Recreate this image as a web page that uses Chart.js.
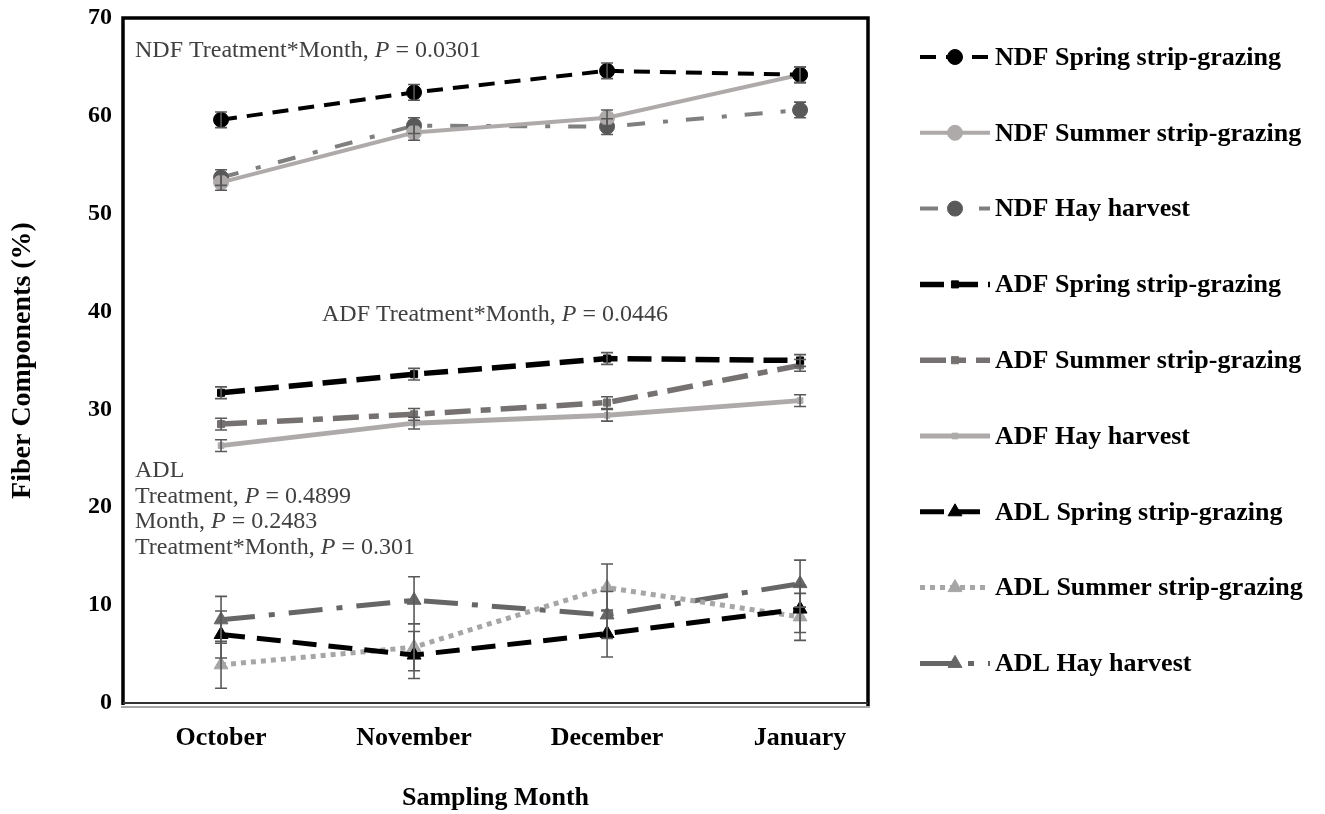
<!DOCTYPE html>
<html><head><meta charset="utf-8">
<script src="https://cdn.jsdelivr.net/npm/chart.js@4/dist/chart.umd.min.js"></script>
<style>html,body{margin:0;padding:0;background:#fff;}</style>
</head><body>
<canvas id="c" width="1325" height="814" style="width:1325px;height:814px;display:block"></canvas>
<script>
// ---- data ----
const months = ['October', 'November', 'December', 'January'];
const yTickValues = [0, 10, 20, 30, 40, 50, 60, 70];
const seriesNames = [
  'NDF Spring strip-grazing', 'NDF Summer strip-grazing', 'NDF Hay harvest',
  'ADF Spring strip-grazing', 'ADF Summer strip-grazing', 'ADF Hay harvest',
  'ADL Spring strip-grazing', 'ADL Summer strip-grazing', 'ADL Hay harvest'
];
const ndfSpring = [59.6, 62.4, 64.6, 64.2];
const ndfSummer = [53.2, 58.3, 59.8, 64.2];
const ndfHay    = [53.7, 59.0, 58.9, 60.6];
const adfSpring = [31.7, 33.6, 35.2, 35.0];
const adfSummer = [28.5, 29.5, 30.7, 34.5];
const adfHay    = [26.3, 28.6, 29.4, 30.9];
const adlSpring = [7.0, 4.9, 7.1, 9.6];
const adlSummer = [3.9, 5.7, 11.8, 8.8];
const adlHay    = [8.5, 10.5, 9.0, 12.2];
const ndfSE = [0.8, 0.8, 0.8, 0.8];
const adfSE = [0.6, 0.6, 0.6, 0.6];
const adlSE = [2.4, 2.4, 2.4, 2.4];
const annotNDF = ['NDF Treatment*Month, ', 'P', ' = 0.0301'];
const annotADF = ['ADF Treatment*Month, ', 'P', ' = 0.0446'];
const annotADL = [['ADL'], ['Treatment, ', 'P', ' = 0.4899'], ['Month, ', 'P', ' = 0.2483'], ['Treatment*Month, ', 'P', ' = 0.301']];

const SERIF = "'Liberation Serif', 'Times New Roman', serif";

function pts(arr) { return arr.map((v, i) => ({x: i, y: v})); }

const styles = [
  {c:'#000000', pc:'#000000', w:4,   dash:[16,10],       ps:'circle',   r:7.5},
  {c:'#AEAAAA', pc:'#AEAAAA', w:4,   dash:[],            ps:'circle',   r:7.5},
  {c:'#7F7F7F', pc:'#595959', w:4,   dash:[18,18,5,18],  ps:'circle',   r:7.5},
  {c:'#000000', pc:'#000000', w:5.5, dash:[24,10],       ps:'rect',     r:5},
  {c:'#767171', pc:'#767171', w:5.5, dash:[26,10,10,10], ps:'rect',     r:5},
  {c:'#AEAAAA', pc:'#AEAAAA', w:5,   dash:[],            ps:'rect',     r:4},
  {c:'#000000', pc:'#000000', w:5,   dash:[24,12],       ps:'triangle', r:8},
  {c:'#A6A6A6', pc:'#A6A6A6', w:5,   dash:[5,5],         ps:'triangle', r:8},
  {c:'#666666', pc:'#666666', w:5,   dash:[34,14,6,14],  ps:'triangle', r:8}
];
const seriesValues = [ndfSpring, ndfSummer, ndfHay, adfSpring, adfSummer, adfHay, adlSpring, adlSummer, adlHay];
const seriesSE = [ndfSE, ndfSE, ndfSE, adfSE, adfSE, adfSE, adlSE, adlSE, adlSE];

const datasets = seriesValues.map((vals, i) => ({
  label: seriesNames[i],
  data: pts(vals),
  borderColor: styles[i].c,
  backgroundColor: styles[i].pc,
  borderWidth: styles[i].w,
  borderDash: styles[i].dash,
  borderCapStyle: 'butt',
  pointStyle: styles[i].ps,
  pointRadius: styles[i].r,
  pointBackgroundColor: styles[i].pc,
  pointBorderColor: styles[i].pc,
  pointBorderWidth: 1,
  tension: 0,
  errors: seriesSE[i]
}));

const framePlugin = {
  id: 'frame',
  beforeDatasetsDraw(chart) {
    const {ctx, chartArea: a} = chart;
    ctx.save();
    ctx.strokeStyle = '#000';
    ctx.lineWidth = 3.5;
    ctx.beginPath();
    ctx.moveTo(a.left, a.bottom + 2);
    ctx.lineTo(a.left, a.top);
    ctx.lineTo(a.right, a.top);
    ctx.lineTo(a.right, a.bottom + 3);
    ctx.stroke();
    ctx.lineWidth = 2;
    ctx.strokeStyle = '#333';
    ctx.beginPath(); ctx.moveTo(a.left, a.bottom); ctx.lineTo(a.right, a.bottom); ctx.stroke();
    ctx.strokeStyle = '#888';
    ctx.lineWidth = 1.5;
    ctx.beginPath(); ctx.moveTo(a.left - 2, a.bottom + 4); ctx.lineTo(a.right + 2, a.bottom + 4); ctx.stroke();
    ctx.restore();
  },
  afterDatasetsDraw(chart) {
    const {ctx} = chart;
    const xs = chart.scales.x, ys = chart.scales.y;
    ctx.save();
    ctx.strokeStyle = '#595959';
    ctx.lineWidth = 1.6;
    ctx.setLineDash([]);
    chart.data.datasets.forEach(ds => {
      ds.data.forEach((p, i) => {
        const e = ds.errors[i];
        const x = xs.getPixelForValue(p.x);
        const y1 = ys.getPixelForValue(p.y + e), y2 = ys.getPixelForValue(p.y - e);
        ctx.beginPath();
        ctx.moveTo(x, y1); ctx.lineTo(x, y2);
        ctx.moveTo(x - 6, y1); ctx.lineTo(x + 6, y1);
        ctx.moveTo(x - 6, y2); ctx.lineTo(x + 6, y2);
        ctx.stroke();
      });
    });
    ctx.restore();

    // annotations
    function drawRich(parts, x, y) {
      let cx = x;
      parts.forEach((t, k) => {
        ctx.font = (k === 1 ? 'italic ' : '') + '24px ' + SERIF;
        ctx.fillText(t, cx, y);
        cx += ctx.measureText(t).width;
      });
    }
    ctx.save();
    ctx.fillStyle = '#404040';
    ctx.textBaseline = 'middle';
    ctx.textAlign = 'left';
    drawRich(annotNDF, xs.getPixelForValue(-0.446), ys.getPixelForValue(66.7));
    drawRich(annotADF, xs.getPixelForValue(0.523), ys.getPixelForValue(39.7));
    annotADL.forEach((line, k) => {
      drawRich(line, xs.getPixelForValue(-0.446), ys.getPixelForValue(23.7 - k * 2.6));
    });
    ctx.restore();

    // legend
    ctx.save();
    chart.data.datasets.forEach((ds, i) => {
      const y = 57 + i * 75.8;
      ctx.strokeStyle = ds.borderColor;
      ctx.lineWidth = ds.borderWidth;
      ctx.lineCap = 'butt';
      ctx.setLineDash(ds.borderDash);
      ctx.beginPath(); ctx.moveTo(920, y); ctx.lineTo(990, y); ctx.stroke();
      ctx.setLineDash([]);
      ctx.fillStyle = ds.pointBackgroundColor;
      ctx.strokeStyle = ds.pointBorderColor;
      ctx.lineWidth = 1;
      Chart.helpers.drawPoint(ctx, {pointStyle: ds.pointStyle, radius: ds.pointRadius, rotation: 0, borderWidth: 1}, 955, y);
      ctx.fillStyle = '#000';
      ctx.font = 'bold 26px ' + SERIF;
      ctx.textBaseline = 'middle';
      ctx.fillText(ds.label, 995, y + 1);
    });
    ctx.restore();
  }
};

new Chart(document.getElementById('c'), {
  type: 'line',
  data: { datasets },
  plugins: [framePlugin],
  options: {
    responsive: false,
    animation: false,
    layout: { padding: { left: 0, top: 18, right: 457, bottom: 0 } },
    plugins: { legend: { display: false }, tooltip: { enabled: false } },
    scales: {
      x: {
        type: 'linear',
        min: -0.508, max: 3.352,
        afterBuildTicks: s => { s.ticks = months.map((m, i) => ({value: i})); },
        afterFit: s => { s.height = 111; s.paddingLeft = 0; s.paddingRight = 0; },
        grid: { display: false, drawTicks: false },
        border: { display: false },
        ticks: { callback: v => months[v] ?? '', font: { family: SERIF, size: 26, weight: 'bold' }, color: '#000', padding: 20, autoSkip: false, maxRotation: 0 },
        title: { display: true, text: 'Sampling Month', font: { family: SERIF, size: 26, weight: 'bold' }, color: '#000', padding: { top: 0, bottom: 0 } }
      },
      y: {
        min: 0, max: 70,
        afterBuildTicks: s => { s.ticks = yTickValues.map(v => ({value: v})); },
        afterFit: s => { s.width = 123; s.paddingTop = 0; s.paddingBottom = 0; },
        grid: { display: false, drawTicks: false },
        border: { display: false },
        ticks: { font: { family: SERIF, size: 24, weight: 'bold' }, color: '#000', padding: 11 },
        title: { display: true, text: 'Fiber Components (%)', font: { family: SERIF, size: 28, weight: 'bold' }, color: '#000', padding: { top: 6, bottom: 0 } }
      }
    }
  }
});
</script>
</body></html>
